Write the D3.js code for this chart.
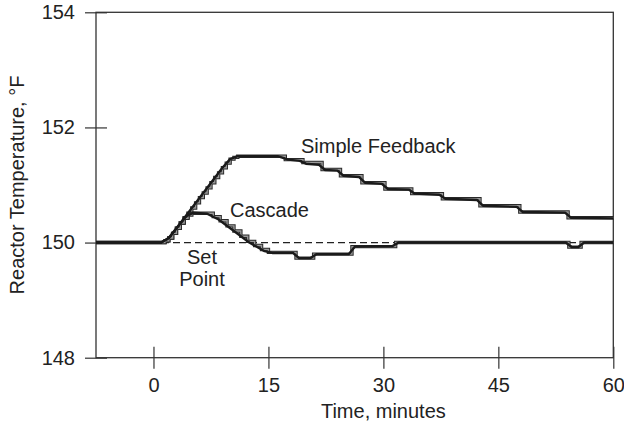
<!DOCTYPE html>
<html>
<head>
    <meta charset="utf-8">
    <title>Reactor Temperature</title>
    <script src="https://cdn.jsdelivr.net/npm/d3@7/dist/d3.min.js"></script>
    <style>
        body { margin: 0; background: #fff; }
        svg text { font-family: "Liberation Sans", Arial, sans-serif; fill: #222; }
    </style>
</head>
<body>
<svg width="624" height="428"></svg>
<script>
    // axis ticks
    var xTicks = [0, 15, 30, 45, 60];
    var yTicks = [148, 150, 152, 154];
    var setPoint = 150;

    // continuous (black) responses: [minutes, degF]
    var simpleLine = [[-7.5,150],[1,150],[2,150.08],[3,150.25],[9,151.3],[10,151.45],[11,151.5],[16.2,151.5],[17.6,151.44],
        [19.1,151.42],[19.9,151.37],[21.6,151.35],[22.4,151.26],[24,151.25],[24.8,151.16],[26.8,151.14],[27.6,151.04],
        [29.8,151.02],[30.6,150.93],[33.3,150.92],[34.1,150.85],[37.3,150.83],[38.1,150.76],[42.2,150.74],[43,150.64],
        [47.4,150.62],[48.2,150.53],[53.7,150.52],[54.5,150.43],[60,150.42]];
    var cascadeLine = [[-7.5,150],[1,150],[2,150.08],[3,150.25],[4.3,150.46],[5.2,150.52],[7,150.5],[8.5,150.4],[10.5,150.2],
        [12.5,150],[14.5,149.85],[15.5,149.82],[18.2,149.82],[19,149.73],[20.5,149.73],[21.3,149.8],[25.5,149.8],
        [26.3,149.93],[31.2,149.94],[32,150],[53.8,150],[54.6,149.92],[55.4,149.92],[56.2,150],[60,150]];

    // sampled (grey, held) measurements: [minutes, degF]
    var simpleSampled = [[-7.5,150],[1.5,150.03],[2,150.08],[2.5,150.16],[3,150.25],[3.5,150.34],[4,150.43],[4.5,150.51],
        [5,150.6],[5.5,150.69],[6,150.78],[6.5,150.86],[7,150.95],[7.5,151.04],[8,151.13],[8.5,151.21],[9,151.3],
        [9.5,151.38],[10,151.45],[10.5,151.48],[11,151.5],[17.2,151.44],[19.5,151.39],[22,151.27],[24.4,151.16],
        [27.2,151.04],[30.2,150.93],[33.7,150.85],[37.7,150.76],[42.6,150.64],[47.8,150.53],[54.1,150.43],[60,150.43]];
    var cascadeSampled = [[-7.5,150],[1.5,150.03],[2,150.08],[2.5,150.16],[3,150.25],[3.5,150.34],[4,150.42],[4.5,150.48],
        [5,150.51],[7.8,150.45],[8.7,150.38],[9.6,150.29],[10.5,150.2],[11.4,150.11],[12.3,150.02],[13.2,149.95],
        [14.1,149.88],[15,149.83],[18.6,149.73],[20.9,149.8],[25.9,149.93],[31.6,150],[54.2,149.92],[55.8,150],[60,150]];

    var svg = d3.select("svg");
    var plotL = 96, plotR = 613.3, plotT = 12.3, plotB = 357.7;

    var x = d3.scaleLinear().domain([-7.5, 60]).range([plotL, plotR]);
    var y = d3.scaleLinear().domain([148, 154]).range([plotB, plotT]);

    var line = d3.line().x(function (d) { return x(d[0]); }).y(function (d) { return y(d[1]); });
    var stepLine = d3.line().curve(d3.curveStepAfter)
        .x(function (d) { return x(d[0]); }).y(function (d) { return y(d[1]); });

    // frame
    svg.append("rect")
        .attr("x", plotL).attr("y", plotT)
        .attr("width", plotR - plotL).attr("height", plotB - plotT)
        .attr("fill", "none").attr("stroke", "#333").attr("stroke-width", 1.3);

    // axes with ticks crossing the line
    var xAxis = svg.append("g")
        .attr("transform", "translate(0," + plotB + ")")
        .call(d3.axisBottom(x).tickValues(xTicks).tickSize(11).tickPadding(9).tickFormat(d3.format("d")));
    xAxis.select(".domain").remove();
    xAxis.selectAll(".tick line").attr("y1", -11).attr("stroke", "#333").attr("stroke-width", 1.2);
    xAxis.selectAll(".tick text").attr("font-size", 20).attr("font-family", null);

    var yAxis = svg.append("g")
        .attr("transform", "translate(" + plotL + ",0)")
        .call(d3.axisLeft(y).tickValues(yTicks).tickSize(11).tickPadding(10).tickFormat(d3.format("d")));
    yAxis.select(".domain").remove();
    yAxis.selectAll(".tick line").attr("x1", 11).attr("stroke", "#333").attr("stroke-width", 1.2);
    yAxis.selectAll(".tick text").attr("font-size", 20).attr("font-family", null);

    // set point
    svg.append("line")
        .attr("x1", x(-7.5)).attr("x2", x(60))
        .attr("y1", y(setPoint)).attr("y2", y(setPoint))
        .attr("stroke", "#222").attr("stroke-width", 1.2).attr("stroke-dasharray", "7,4");

    // sampled staircases: dark outline with grey core
    [simpleSampled, cascadeSampled].forEach(function (s) {
        svg.append("path").datum(s).attr("d", stepLine)
            .attr("fill", "none").attr("stroke", "#2a2a2a").attr("stroke-width", 3.4);
        svg.append("path").datum(s).attr("d", stepLine)
            .attr("fill", "none").attr("stroke", "#9a9a9a").attr("stroke-width", 1.4);
    });

    // continuous responses
    [simpleLine, cascadeLine].forEach(function (s) {
        svg.append("path").datum(s).attr("d", line)
            .attr("fill", "none").attr("stroke", "#1a1a1a").attr("stroke-width", 2.4)
            .attr("stroke-linejoin", "round");
    });

    // labels
    svg.append("text").attr("x", 301).attr("y", 152.5).attr("font-size", 20).text("Simple Feedback");
    svg.append("text").attr("x", 230).attr("y", 216.5).attr("font-size", 20).text("Cascade");
    svg.append("text").attr("x", 202).attr("y", 264).attr("font-size", 20).attr("text-anchor", "middle").text("Set");
    svg.append("text").attr("x", 202).attr("y", 285.5).attr("font-size", 20).attr("text-anchor", "middle").text("Point");

    svg.append("text")
        .attr("x", x(30)).attr("y", 418)
        .attr("font-size", 20).attr("text-anchor", "middle")
        .text("Time, minutes");
    svg.append("text")
        .attr("transform", "translate(24," + ((plotT + plotB) / 2) + ") rotate(-90)")
        .attr("font-size", 20).attr("text-anchor", "middle")
        .text("Reactor Temperature, °F");
</script>
</body>
</html>
